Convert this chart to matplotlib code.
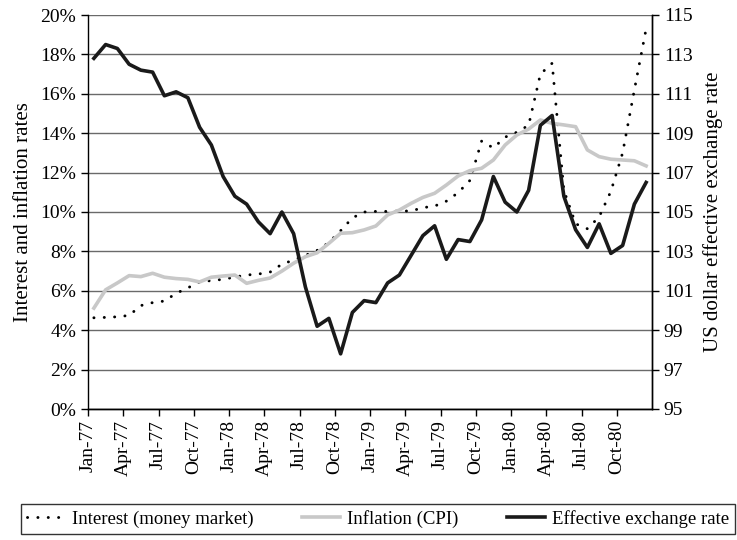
import matplotlib.pyplot as plt
import numpy as np

plt.rcParams['font.family'] = ['Liberation Serif', 'DejaVu Serif']

# monthly series, Jan-77 .. Dec-80
interest = [4.63, 4.65, 4.68, 4.75, 5.25, 5.40, 5.48, 5.87, 6.15, 6.45, 6.52, 6.58,
            6.70, 6.80, 6.85, 6.95, 7.35, 7.56, 7.80, 8.05, 8.45, 9.05, 9.70, 10.00,
            10.03, 10.03, 10.05, 10.05, 10.22, 10.30, 10.55, 10.98, 11.60, 13.60, 13.25, 13.80,
            14.05, 14.40, 17.00, 17.55, 11.10, 9.40, 9.15, 9.75, 11.05, 13.00, 16.20, 19.30]
inflation = [5.12, 6.05, 6.40, 6.77, 6.72, 6.89, 6.69, 6.62, 6.58, 6.45, 6.69, 6.75,
             6.80, 6.38, 6.53, 6.65, 7.00, 7.40, 7.73, 7.93, 8.41, 8.92, 8.95, 9.09,
             9.29, 9.85, 10.10, 10.44, 10.74, 10.95, 11.37, 11.83, 12.10, 12.22, 12.64, 13.40,
             13.91, 14.21, 14.67, 14.50, 14.42, 14.33, 13.15, 12.81, 12.68, 12.64, 12.60, 12.34]
exchange = [112.8, 113.5, 113.3, 112.5, 112.2, 112.1, 110.9, 111.1, 110.8, 109.3, 108.4, 106.8,
            105.8, 105.4, 104.5, 103.9, 105.0, 103.9, 101.2, 99.2, 99.6, 97.8, 99.9, 100.5,
            100.4, 101.4, 101.8, 102.8, 103.8, 104.3, 102.6, 103.6, 103.5, 104.6, 106.8, 105.5,
            105.0, 106.1, 109.4, 109.9, 105.8, 104.1, 103.2, 104.4, 102.9, 103.3, 105.4, 106.5]
tick_labels = ['Jan-77', 'Apr-77', 'Jul-77', 'Oct-77', 'Jan-78', 'Apr-78', 'Jul-78', 'Oct-78',
               'Jan-79', 'Apr-79', 'Jul-79', 'Oct-79', 'Jan-80', 'Apr-80', 'Jul-80', 'Oct-80']

x = np.arange(len(interest))
fs = 14

fig = plt.figure(figsize=(7.37, 5.4), dpi=100)
ax = fig.add_axes([88/737, 1-409/540, (652-88)/737, (409-15)/540])
ax2 = ax.twinx()

ax.plot(x, interest, color='black', lw=2.1, linestyle=(0, (0.05, 3.5)),
        dash_capstyle='round', label='Interest (money market)')
ax.plot(x, inflation, color='#c8c8c8', lw=2.6, label='Inflation (CPI)')
ax2.plot(x, exchange, color='#1a1a1a', lw=2.6, label='Effective exchange rate')

ax.set_xlim(-0.5, len(x) - 0.5)
ax.set_ylim(0, 20)
ax2.set_ylim(95, 115)

ax.set_yticks(np.arange(0, 21, 2))
ax.set_yticklabels([f'{v}%' for v in range(0, 21, 2)])
ax2.set_yticks(np.arange(95, 116, 2))
ax.set_xticks(np.arange(0, len(x), 3) - 0.5)
ax.set_xticklabels(tick_labels, rotation=90)

ax.yaxis.grid(True, color='#6a6a6a', lw=1.0)
ax.set_axisbelow(True)
for a in (ax, ax2):
    a.spines['top'].set_visible(False)
    a.tick_params(direction='out', length=5, width=1, labelsize=fs, colors='black')
    for s in a.spines.values():
        s.set_linewidth(1.0)
ax2.spines['left'].set_visible(False)
ax.tick_params(axis='x', pad=3)

ax.set_ylabel('Interest and inflation rates', fontsize=15, labelpad=5)
ax2.set_ylabel('US dollar effective exchange rate', fontsize=15, labelpad=7)

h1, l1 = ax.get_legend_handles_labels()
h2, l2 = ax2.get_legend_handles_labels()
leg = fig.legend(h1 + h2, l1 + l2, loc='center', ncol=3, fontsize=13.5,
                 bbox_to_anchor=(378/737, 1-519/540), frameon=True, fancybox=False,
                 edgecolor='black', handlelength=2.0, handletextpad=0.4,
                 columnspacing=2.6, borderpad=0.3, borderaxespad=0)
leg.get_frame().set_linewidth(1.0)

fig.savefig('out.png', dpi=100)
